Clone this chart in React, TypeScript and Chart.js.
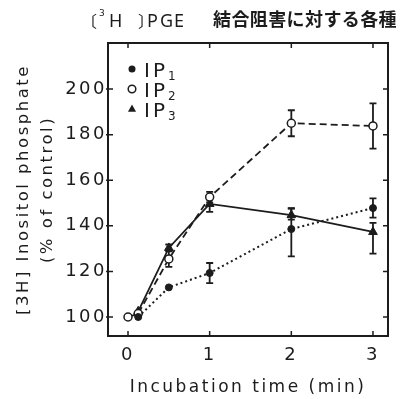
import React, { useEffect, useRef } from "react";
import { Chart, registerables } from "chart.js";

Chart.register(...registerables);

// ---- data ----
const ip1Time = [0.125, 0.5, 1, 2, 3];
const ip1Mean = [100, 113, 119.3, 138.6, 147.8];
const ip1ErrLow = [0, 0, 4.4, 12, 4.2];
const ip1ErrHigh = [0, 0, 4.4, 9, 4.2];

const ip2Time = [0, 0.125, 0.5, 1, 2, 3];
const ip2Mean = [100, 101.5, 125.5, 152.6, 185, 183.8];
const ip2ErrLow = [0, 0, 3.5, 2.3, 5.7, 9.9];
const ip2ErrHigh = [0, 0, 3.5, 2.3, 5.7, 9.9];

const ip3Time = [0.125, 0.5, 1, 2, 3];
const ip3Mean = [102.5, 130.3, 149.6, 144.7, 137.3];
const ip3ErrLow = [0, 1.5, 3.5, 2, 9.5];
const ip3ErrHigh = [0, 1.5, 3.5, 3, 4];

const legendLabels = ["1", "2", "3"];
const xTitle = "Incubation time (min)";
const yTitle = ["[3H] Inositol phosphate", "(% of control)"];
const titleLatinChars = ["〔", "³", "H", "〕", "P", "G", "E"];
const titleCJK = "結合阻害に対する各種";

const INK = "#1c1c1c";
const FONT = "'DejaVu Sans', sans-serif";

function drawMarker(ctx: CanvasRenderingContext2D, kind: string, x: number, y: number) {
  ctx.save();
  ctx.fillStyle = INK;
  ctx.strokeStyle = INK;
  ctx.lineWidth = 1.5;
  ctx.beginPath();
  if (kind === "filled") {
    ctx.arc(x, y, 3.5, 0, Math.PI * 2);
    ctx.fill();
  } else if (kind === "open") {
    ctx.arc(x, y, 3.8, 0, Math.PI * 2);
    ctx.fillStyle = "#fff";
    ctx.fill();
    ctx.stroke();
  } else {
    const r = 4.5;
    ctx.moveTo(x, y - r);
    ctx.lineTo(x + r * 0.9, y + r * 0.6);
    ctx.lineTo(x - r * 0.9, y + r * 0.6);
    ctx.closePath();
    ctx.fill();
  }
  ctx.restore();
}

export default function App() {
  const ref = useRef<HTMLCanvasElement>(null);

  useEffect(() => {
    if (!ref.current) return;
    const series = [
      { time: ip1Time, mean: ip1Mean, lo: ip1ErrLow, hi: ip1ErrHigh },
      { time: ip2Time, mean: ip2Mean, lo: ip2ErrLow, hi: ip2ErrHigh },
      { time: ip3Time, mean: ip3Mean, lo: ip3ErrLow, hi: ip3ErrHigh },
    ];

    const spacing = {
      id: "spacing",
      beforeDraw(chart: any) {
        chart.ctx.letterSpacing = "2.5px";
      },
    };

    const errorBars = {
      id: "errorBars",
      beforeDatasetsDraw(chart: any) {
        const { ctx, scales } = chart;
        const x = scales.x;
        const y = scales.y;
        ctx.save();
        ctx.strokeStyle = INK;
        ctx.lineWidth = 1.8;
        series.forEach((s) => {
          s.time.forEach((t, i) => {
            if (!s.lo[i] && !s.hi[i]) return;
            const px = x.getPixelForValue(t);
            const pTop = y.getPixelForValue(s.mean[i] + s.hi[i]);
            const pBot = y.getPixelForValue(s.mean[i] - s.lo[i]);
            ctx.beginPath();
            ctx.moveTo(px, pTop);
            ctx.lineTo(px, pBot);
            if (s.hi[i]) {
              ctx.moveTo(px - 3.5, pTop);
              ctx.lineTo(px + 3.5, pTop);
            }
            if (s.lo[i]) {
              ctx.moveTo(px - 3.5, pBot);
              ctx.lineTo(px + 3.5, pBot);
            }
            ctx.stroke();
          });
        });
        ctx.restore();
      },
    };

    const frame = {
      id: "frame",
      afterDraw(chart: any) {
        const { ctx, chartArea: a, scales } = chart;
        ctx.save();
        ctx.letterSpacing = "0px";
        ctx.strokeStyle = INK;
        ctx.lineWidth = 2;
        ctx.strokeRect(a.left, a.top, a.right - a.left, a.bottom - a.top);
        ctx.lineWidth = 1.5;
        const tl = 5;
        ctx.beginPath();
        scales.x.ticks.forEach((tk: any) => {
          const px = scales.x.getPixelForValue(tk.value);
          if (px < a.left + 3 || px > a.right - 3) return;
          ctx.moveTo(px, a.bottom);
          ctx.lineTo(px, a.bottom - tl);
          ctx.moveTo(px, a.top);
          ctx.lineTo(px, a.top + tl);
        });
        scales.y.ticks.forEach((tk: any) => {
          const py = scales.y.getPixelForValue(tk.value);
          if (py < a.top + 3 || py > a.bottom - 3) return;
          ctx.moveTo(a.left - 2, py);
          ctx.lineTo(a.left + tl, py);
          ctx.moveTo(a.right, py);
          ctx.lineTo(a.right - tl, py);
        });
        ctx.stroke();

        // legend
        const kinds = ["filled", "open", "triangle"];
        const rowsY = [69, 89, 109];
        kinds.forEach((k, i) => {
          drawMarker(ctx, k, 132, rowsY[i]);
          ctx.fillStyle = INK;
          ctx.textBaseline = "alphabetic";
          ctx.textAlign = "left";
          ctx.font = `20px ${FONT}`;
          ctx.letterSpacing = "3px";
          ctx.fillText("IP", 144, rowsY[i] + 8);
          const w = ctx.measureText("IP").width;
          ctx.font = `12px ${FONT}`;
          ctx.letterSpacing = "0px";
          ctx.fillText(legendLabels[i], 144 + w, rowsY[i] + 11);
        });

        // title
        ctx.fillStyle = INK;
        ctx.textAlign = "left";
        ctx.textBaseline = "alphabetic";
        const latinX = [81, 99, 109, 138, 147, 160, 174];
        titleLatinChars.forEach((c, i) => {
          if (c === "³") {
            ctx.font = `9px ${FONT}`;
            ctx.fillText("3", latinX[i], 16);
          } else if (c === "〔" || c === "〕") {
            ctx.font = `16px 'Noto Sans CJK JP', sans-serif`;
            ctx.fillText(c, latinX[i], 27);
          } else {
            ctx.font = `18px 'Noto Sans', sans-serif`;
            ctx.fillText(c, latinX[i], 27);
          }
        });
        ctx.font = `bold 18px 'Noto Sans CJK JP', sans-serif`;
        ctx.letterSpacing = "0.4px";
        ctx.fillText(titleCJK, 213, 26);
        ctx.restore();
      },
    };

    const chart = new Chart(ref.current, {
      type: "scatter",
      data: {
        datasets: [
          {
            label: "IP1",
            data: ip1Time.map((t, i) => ({ x: t, y: ip1Mean[i] })),
            showLine: true,
            borderColor: INK,
            borderWidth: 2,
            borderDash: [2, 3],
            pointStyle: "circle",
            pointRadius: 3.5,
            pointBackgroundColor: INK,
            pointBorderColor: INK,
            pointBorderWidth: 1,
          },
          {
            label: "IP2",
            data: ip2Time.map((t, i) => ({ x: t, y: ip2Mean[i] })),
            showLine: true,
            borderColor: INK,
            borderWidth: 1.8,
            borderDash: [7, 4],
            pointStyle: "circle",
            pointRadius: 4,
            pointBackgroundColor: "#fff",
            pointBorderColor: INK,
            pointBorderWidth: 1.5,
          },
          {
            label: "IP3",
            data: ip3Time.map((t, i) => ({ x: t, y: ip3Mean[i] })),
            showLine: true,
            borderColor: INK,
            borderWidth: 1.8,
            pointStyle: "triangle",
            pointRadius: 5,
            pointBackgroundColor: INK,
            pointBorderColor: INK,
            pointBorderWidth: 1,
          },
        ],
      },
      options: {
        responsive: false,
        animation: false,
        devicePixelRatio: 1,
        layout: { padding: { top: 43, right: 12, left: 0, bottom: 0 } },
        plugins: {
          legend: { display: false },
          title: { display: false },
          tooltip: { enabled: false },
        },
        scales: {
          x: {
            type: "linear",
            min: -0.245,
            max: 3.184,
            grid: { display: false, drawTicks: false },
            border: { display: false },
            ticks: {
              stepSize: 1,
              includeBounds: false,
              color: INK,
              font: { family: FONT, size: 18 },
              padding: 9,
              maxRotation: 0,
            },
            title: {
              display: true,
              text: xTitle,
              color: INK,
              font: { family: FONT, size: 17 },
              padding: { top: 0, bottom: 1 },
            },
            afterFit(scale: any) {
              scale.height = 63;
            },
          },
          y: {
            type: "linear",
            min: 91.67,
            max: 220.2,
            grid: { display: false, drawTicks: false },
            border: { display: false },
            ticks: {
              stepSize: 20,
              includeBounds: false,
              color: INK,
              font: { family: FONT, size: 18 },
              padding: 1,
              callback: (v: any) => (v > 200 ? "" : String(v)),
            },
            title: {
              display: true,
              text: yTitle,
              color: INK,
              font: { family: FONT, size: 16.5, lineHeight: 1.45 },
              padding: { top: 12, bottom: 0 },
            },
            afterFit(scale: any) {
              scale.width = 108;
            },
          },
        },
      },
      plugins: [spacing, errorBars, frame],
    } as any);

    return () => chart.destroy();
  }, []);

  return (
    <div style={{ position: "absolute", left: 0, top: 0, width: 400, height: 399, background: "#fff" }}>
      <canvas ref={ref} width={400} height={399} />
    </div>
  );
}
